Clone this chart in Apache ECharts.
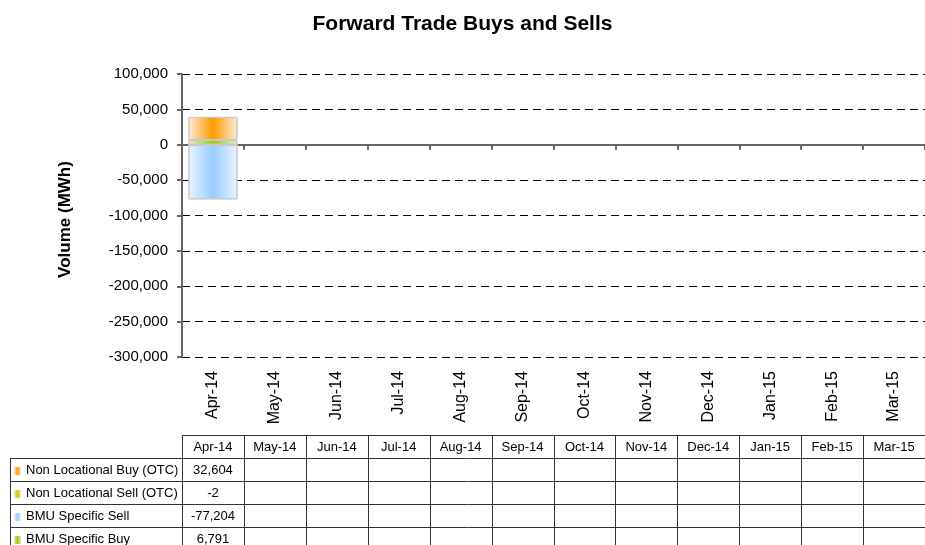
<!DOCTYPE html>
<html>
<head>
<meta charset="utf-8">
<script src="https://cdn.jsdelivr.net/npm/echarts@6/dist/echarts.min.js"></script>
<style>
	html, body { margin: 0; padding: 0; background: #fff; }
	#main { width: 925px; height: 545px; }
</style>
</head>
<body>
<div id="main"></div>
<script>
	var months = ['Apr-14', 'May-14', 'Jun-14', 'Jul-14', 'Aug-14', 'Sep-14', 'Oct-14', 'Nov-14', 'Dec-14', 'Jan-15', 'Feb-15', 'Mar-15'];
	var nonLocBuy = [32604, null, null, null, null, null, null, null, null, null, null, null];
	var nonLocSell = [-2, null, null, null, null, null, null, null, null, null, null, null];
	var bmuSell = [-77204, null, null, null, null, null, null, null, null, null, null, null];
	var bmuBuy = [6791, null, null, null, null, null, null, null, null, null, null, null];
	var yTicks = [-300000, 100000, 50000]; // min, max, interval

	var font = 'Liberation Sans, Arial, sans-serif';

	// 横向渐变填充
	function grad(edge, mid) {
		return new echarts.graphic.LinearGradient(0, 0, 1, 0, [
			{ offset: 0, color: edge },
			{ offset: 0.5, color: mid },
			{ offset: 1, color: edge }
		]);
	}

	// 表格行顺序
	var rows = [
		{ name: 'Non Locational Buy (OTC)', data: nonLocBuy, edge: '#FFEBD6', mid: '#FF9900' },
		{ name: 'Non Locational Sell (OTC)', data: nonLocSell, edge: '#F3F3C8', mid: '#CCCC00' },
		{ name: 'BMU Specific Sell', data: bmuSell, edge: '#EAF4FF', mid: '#99CCFF' },
		{ name: 'BMU Specific Buy', data: bmuBuy, edge: '#E4F0CC', mid: '#99CC00' }
	];
	// 堆叠顺序（靠近0的在前）
	var stackOrder = [3, 1, 2, 0];

	var myChart = echarts.init(document.getElementById('main'), null, { renderer: 'canvas' });

	var fmt = function(v) {
		return echarts.format.addCommas(v);
	};

	var option = {
		backgroundColor: '#fff',
		animation: false,
		title: {
			text: 'Forward Trade Buys and Sells',
			left: 'center',
			top: 9,
			textStyle: { fontFamily: font, fontSize: 21, fontWeight: 'bold', color: '#000' }
		},
		grid: {
			left: 182,
			top: 74,
			width: 757,
			height: 283
		},
		xAxis: [{
			type: 'category',
			data: months,
			position: 'bottom',
			axisLine: { onZero: true, lineStyle: { color: '#666', width: 2 } },
			axisTick: { show: true, length: 5, lineStyle: { color: '#666', width: 2 } },
			axisLabel: { show: false },
			splitLine: { show: false }
		}, {
			type: 'category',
			data: months,
			position: 'bottom',
			axisLine: { show: false, onZero: false },
			axisTick: { show: false },
			axisLabel: {
				rotate: 90,
				margin: 14,
				fontFamily: font,
				fontSize: 16,
				color: '#000'
			}
		}],
		yAxis: {
			type: 'value',
			min: yTicks[0],
			max: yTicks[1],
			interval: yTicks[2],
			name: 'Volume (MWh)',
			nameLocation: 'middle',
			nameGap: 108,
			nameTextStyle: { fontFamily: font, fontSize: 17, fontWeight: 'bold', color: '#000', padding: [0, 8, 0, 0] },
			axisLine: { show: true, lineStyle: { color: '#666', width: 2 } },
			axisTick: { show: true, length: 5, lineStyle: { color: '#666', width: 2 } },
			axisLabel: {
				margin: 14,
				fontFamily: font,
				fontSize: 15,
				color: '#000',
				formatter: fmt
			},
			splitLine: { lineStyle: { color: '#000', width: 1, type: [8, 5] } }
		},
		series: stackOrder.map(function(i) {
			var r = rows[i];
			return {
				name: r.name,
				type: 'bar',
				stack: 'total',
				xAxisIndex: 0,
				barWidth: 49,
				data: r.data,
				itemStyle: {
					color: grad(r.edge, r.mid),
					borderColor: '#C8C8C8',
					borderWidth: 1
				}
			};
		})
	};
	myChart.setOption(option);

	// 数据表格
	function buildTable() {
		var els = [];
		var x0 = myChart.convertToPixel({ xAxisIndex: 0 }, months[0]);
		var x1 = myChart.convertToPixel({ xAxisIndex: 0 }, months[1]);
		var cw = x1 - x0;
		var left = x0 - cw / 2;
		var right = left + cw * months.length;
		var headTop = 435, rowH = 23, labelLeft = 10;
		var lineStyle = { stroke: '#333', lineWidth: 1 };
		function line(xa, ya, xb, yb) {
			els.push({ type: 'line', silent: true, shape: { x1: xa, y1: ya, x2: xb, y2: yb }, style: lineStyle });
		}
		var bottom = headTop + rowH * (rows.length + 1);
		// 横线
		line(left, headTop + 0.5, right, headTop + 0.5);
		for (var r = 1; r <= rows.length + 1; r++) {
			var y = Math.round(headTop + rowH * r) + 0.5;
			line(labelLeft, y, right, y);
		}
		// 竖线
		line(labelLeft + 0.5, headTop + rowH, labelLeft + 0.5, bottom);
		for (var c = 0; c <= months.length; c++) {
			var x = Math.round(left + cw * c) + 0.5;
			line(x, headTop, x, bottom);
		}
		// 表头
		months.forEach(function(m, c) {
			els.push({
				type: 'text', silent: true,
				style: { x: left + cw * (c + 0.5), y: headTop + rowH / 2 + 1, text: m, align: 'center', verticalAlign: 'middle', font: '13px ' + font, fill: '#000' }
			});
		});
		// 行
		rows.forEach(function(row, i) {
			var cy = headTop + rowH * (i + 1.5) + 1;
			els.push({
				type: 'rect', silent: true,
				shape: { x: 14, y: Math.round(cy - 4), width: 7, height: 8 },
				style: { fill: grad(row.edge, row.mid) }
			});
			els.push({
				type: 'text', silent: true,
				style: { x: 26, y: cy, text: row.name, align: 'left', verticalAlign: 'middle', font: '13px ' + font, fill: '#000' }
			});
			row.data.forEach(function(v, c) {
				if (v === null) return;
				els.push({
					type: 'text', silent: true,
					style: { x: left + cw * (c + 0.5), y: cy, text: fmt(v), align: 'center', verticalAlign: 'middle', font: '13px ' + font, fill: '#000' }
				});
			});
		});
		myChart.setOption({ graphic: { elements: els } });
	}
	buildTable();
</script>
</body>
</html>
